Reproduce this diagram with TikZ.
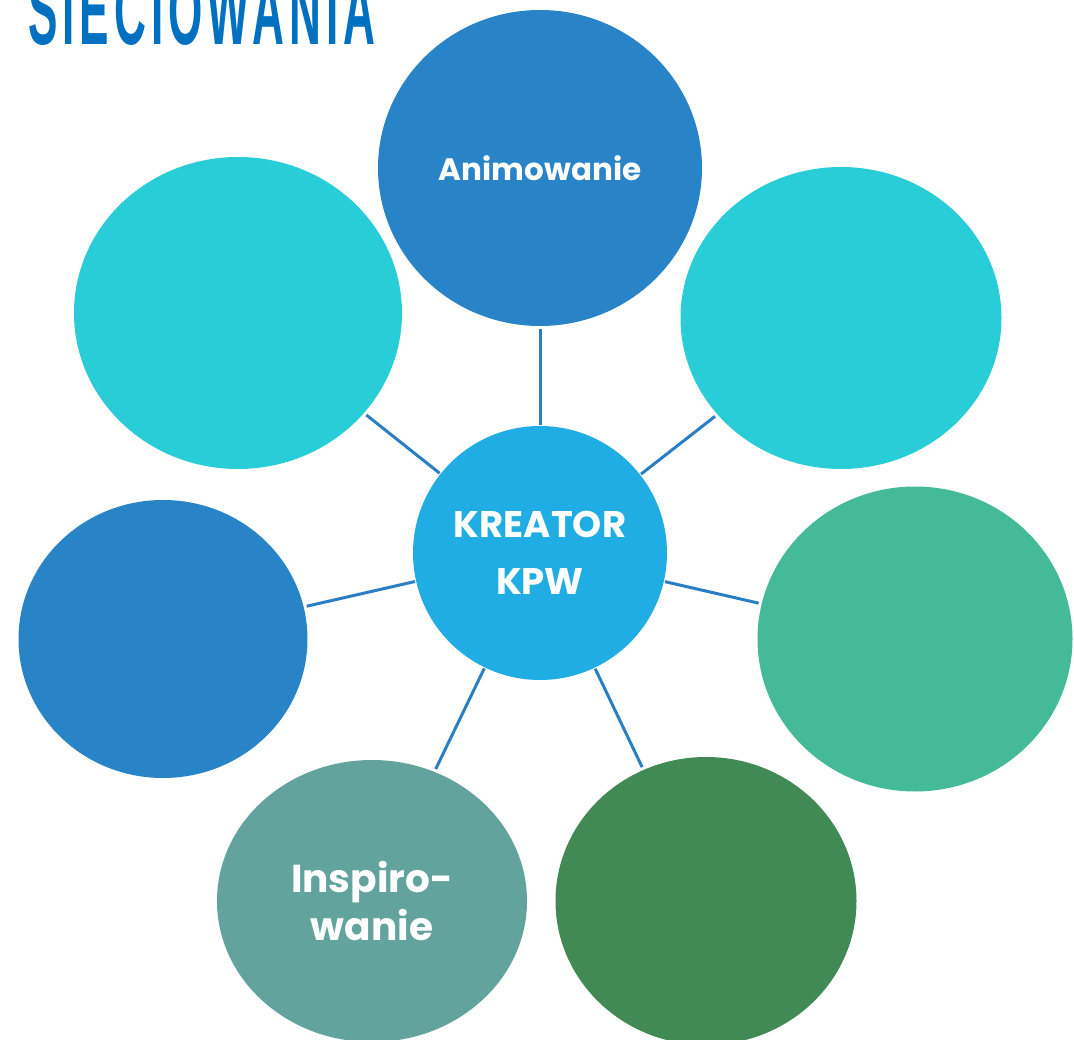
\documentclass[tikz,border=0pt]{standalone}
\usepackage{fontspec}
\setmainfont{Poppins}[BoldFont={* Bold}]
\newfontfamily\titlefont{Liberation Sans}[LetterSpace=11.5]
\usetikzlibrary{shapes.geometric}
\definecolor{cblue}{HTML}{2884C6}
\definecolor{ccyan}{HTML}{28CDD7}
\definecolor{cgreen}{HTML}{44BA98}
\definecolor{cteal}{HTML}{62A39E}
\definecolor{cdark}{HTML}{418A56}
\definecolor{ccenter}{HTML}{1FADE3}
\definecolor{cline}{HTML}{2A7FC4}
\definecolor{ctitle}{HTML}{0070C0}
\tikzset{
  bubble/.style={ellipse, inner sep=0pt, text=white, font=\bfseries\fontsize{31}{40}\selectfont, align=center},
  link/.style={draw=cline, line width=3pt, shorten >=3pt, shorten <=1pt},
}
\begin{document}
\begin{tikzpicture}[x=1pt,y=-1pt]
\useasboundingbox (0,0) rectangle (1074,1040);
\clip (0,0) rectangle (1074,1040);
\fill[white] (0,0) rectangle (1074,1040);
\node[anchor=base west, text=ctitle, inner sep=0pt, font=\titlefont\bfseries\fontsize{98}{100}\selectfont, xscale=0.45] (title) at (28,45) {SIECIOWANIA};
\node[bubble, fill=cblue, minimum width=324pt, minimum height=316pt] (anim) at (540,168) {Animowanie};
\node[bubble, fill=ccyan, minimum width=328pt, minimum height=312pt] (tl) at (238,313) {};
\node[bubble, fill=ccyan, minimum width=321pt, minimum height=302pt] (tr) at (841,318) {};
\node[bubble, fill=cblue, minimum width=289pt, minimum height=278pt] (l) at (163,639) {};
\node[bubble, fill=cgreen, minimum width=315pt, minimum height=305pt] (r) at (915,639) {};
\node[bubble, fill=cteal, minimum width=310pt, minimum height=282pt, font=\bfseries\fontsize{39}{48}\selectfont] (bl) at (372,901) {Inspiro-\\wanie};
\node[bubble, fill=cdark, minimum width=301pt, minimum height=288pt] (br) at (706,901) {};
\node[bubble, fill=ccenter, minimum width=254pt, minimum height=254pt, font=\bfseries\fontsize{37}{57}\selectfont] (kreator) at (540,553) {KREATOR\\KPW};
\draw[link] (kreator) -- (anim);
\draw[link] (kreator) -- (tl);
\draw[link] (kreator) -- (tr);
\draw[link] (kreator) -- (l);
\draw[link] (kreator) -- (r);
\draw[link] (kreator) -- (bl);
\draw[link] (kreator) -- (br);
\end{tikzpicture}
\end{document}
